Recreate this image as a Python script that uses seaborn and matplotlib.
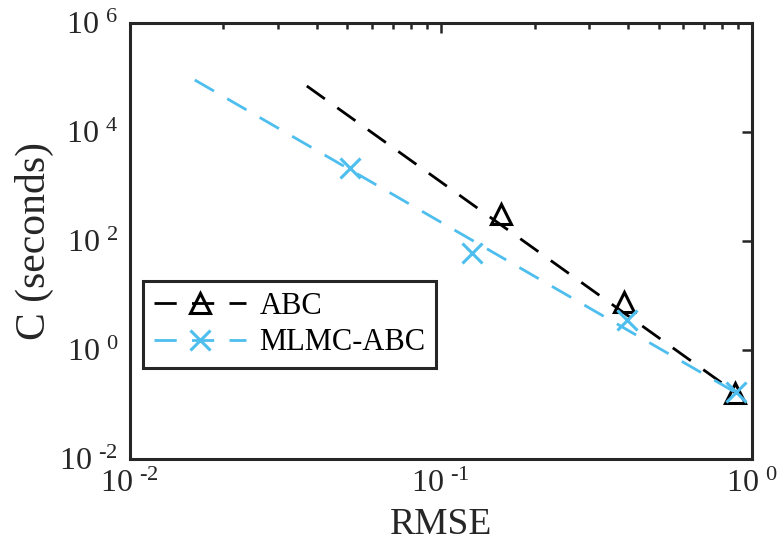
import numpy as np
import pandas as pd
import matplotlib
matplotlib.use('Agg')
import matplotlib.pyplot as plt
import matplotlib.ticker as mticker
from matplotlib.lines import Line2D
import seaborn as sns

# measured points (RMSE, cost in seconds)
abc_rmse = [0.1556, 0.387, 0.88]
abc_cost = [305, 7.6, 0.16]
mlmc_rmse = [0.0511, 0.126, 0.395, 0.884]
mlmc_cost = [2130, 58.7, 3.5, 0.17]

# fitted rate lines (end points)
abc_fit_rmse = [0.0371, 0.88]
abc_fit_cost = [6.9e4, 0.165]
mlmc_fit_rmse = [0.0162, 0.884]
mlmc_fit_cost = [8.9e4, 0.164]

xtick_exp = ['-2', '-1', '0']
ytick_exp = ['-2', '0', '2', '4', '6']
labels = ['ABC', 'MLMC-ABC']
black = '#000000'
blue = '#4DBEEE'

sns.set_theme(style='white')
plt.rcParams['font.family'] = ['Liberation Serif', 'DejaVu Serif']
plt.rcParams['mathtext.fontset'] = 'custom'
plt.rcParams['mathtext.rm'] = 'Liberation Serif'

def pow_label(e):
    e = e.replace('-', r'\text{-}')
    return r'$\mathregular{10^{\ ' + e + '}}$'

fig = plt.figure(figsize=(7.8, 5.54), dpi=100)
ax = fig.add_axes([129.5/780, 1-458.7/554, 622.8/780, 436/554])

dash = (8, 5.5)
lw = 2.0
sns.lineplot(x=abc_fit_rmse, y=abc_fit_cost, ax=ax, color=black, lw=lw,
             estimator=None, sort=False)
ax.lines[-1].set_dashes(dash)
sns.lineplot(x=abc_rmse, y=abc_cost, ax=ax, color=black, marker='^', linestyle='none',
             ms=15, mfc='none', mec=black, mew=2.2, estimator=None, sort=False)
sns.lineplot(x=mlmc_fit_rmse, y=mlmc_fit_cost, ax=ax, color=blue, lw=lw,
             estimator=None, sort=False)
ax.lines[-1].set_dashes(dash)
sns.lineplot(x=mlmc_rmse, y=mlmc_cost, ax=ax, color=blue, marker='x', linestyle='none',
             ms=14, mec=blue, mew=2.2, estimator=None, sort=False)

ax.set_xscale('log')
ax.set_yscale('log')
ax.set_xlim(1e-2, 1e0)
ax.set_ylim(1e-2, 1e6)

ax.set_xticks([10.0**int(e) for e in xtick_exp])
ax.set_xticklabels([pow_label(e) for e in xtick_exp])
ax.xaxis.set_minor_locator(mticker.LogLocator(base=10, subs=np.arange(2, 10)))
ax.xaxis.set_minor_formatter(mticker.NullFormatter())
ax.set_yticks([10.0**int(e) for e in ytick_exp])
ax.set_yticklabels([pow_label(e) for e in ytick_exp])
ax.yaxis.set_minor_locator(mticker.NullLocator())

ax.tick_params(which='both', direction='in', top=True, right=True, colors='#262626',
               labelcolor='#262626', width=1.8)
ax.tick_params(which='major', length=7, labelsize=23, pad=8)
ax.tick_params(which='minor', length=4)
for s in ax.spines.values():
    s.set_linewidth(2.2)
    s.set_color('#262626')

ax.set_xlabel('RMSE', fontsize=27, color='#262626', labelpad=6)
ax.set_ylabel('C (seconds)', fontsize=30, color='#262626', labelpad=4)

handles = [Line2D([], [], color=black, lw=lw, dashes=dash, marker='^', ms=15, mfc='none', mew=2.2),
           Line2D([], [], color=blue, lw=lw, dashes=dash, marker='x', ms=14, mew=2.2)]
leg = ax.legend(handles, labels, loc='lower left', bbox_to_anchor=(0.022, 0.208),
                fontsize=22, handlelength=3.0, handletextpad=0.45, borderpad=0.35,
                labelspacing=0.25, fancybox=False, framealpha=1, edgecolor='#262626',
                borderaxespad=0)
leg.get_frame().set_linewidth(2.2)
for t in leg.get_texts():
    t.set_color('#000000')

fig.savefig('out.png', dpi=100)
